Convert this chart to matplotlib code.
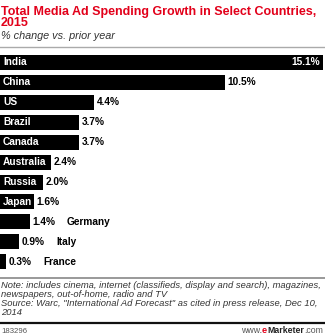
import matplotlib
matplotlib.use('Agg')
import matplotlib.pyplot as plt
from matplotlib.lines import Line2D

plt.rcParams['font.family'] = ['Liberation Sans', 'DejaVu Sans']

countries = ['India', 'China', 'US', 'Brazil', 'Canada', 'Australia', 'Russia',
             'Japan', 'Germany', 'Italy', 'France']
growth = [15.1, 10.5, 4.4, 3.7, 3.7, 2.4, 2.0, 1.6, 1.4, 0.9, 0.3]
# names that do not fit inside their bar go to the right of the value
outside = ['Germany', 'Italy', 'France']

W, H = 325, 335
fig = plt.figure(figsize=(W / 100, H / 100), dpi=100)

def fx(px):
    return px / W

def fy(py):
    return 1 - py / H

# bar area: centers from 62px to 262px, 20px apart
ax = fig.add_axes([fx(0), fy(272), fx(323), (272 - 52) / H])
ypos = list(range(len(countries)))
ax.barh(ypos, growth, height=0.75, color='black', left=0)
ax.set_xlim(0, max(growth))
ax.set_ylim(len(countries) - 0.5, -0.5)
ax.axis('off')

lab = dict(fontsize=7.3, fontweight='bold', va='center', textcoords='offset points')
for i, (c, v) in enumerate(zip(countries, growth)):
    txt = f'{v:.1f}%'
    if i == 0:
        ax.annotate(c, (0, i), xytext=(2.2, 0), color='white', ha='left', **lab)
        ax.annotate(txt, (v, i), xytext=(-2.2, 0), color='white', ha='right', **lab)
    elif c in outside:
        ax.annotate(txt, (v, i), xytext=(1.8, 0), color='black', ha='left', **lab)
        ax.annotate(c, (v, i), xytext=(26.5, 0), color='black', ha='left', **lab)
    else:
        ax.annotate(c, (0, i), xytext=(2.2, 0), color='white', ha='left', **lab)
        ax.annotate(txt, (v, i), xytext=(1.8, 0), color='black', ha='left', **lab)

red = '#e2001a'
fig.text(fx(1), fy(14.5), 'Total Media Ad Spending Growth in Select Countries,',
         color=red, fontsize=9.0, fontweight='bold', va='baseline', ha='left')
fig.text(fx(1), fy(26.5), '2015', color=red, fontsize=9.0, fontweight='bold',
         va='baseline', ha='left')
fig.text(fx(1), fy(39), '% change vs. prior year', color='#333333', fontsize=7.8,
         style='italic', va='baseline', ha='left')

fig.add_artist(Line2D([0, 1], [fy(46.5), fy(46.5)], color='#aaaaaa', lw=1.0))
fig.add_artist(Line2D([0, 1], [fy(278), fy(278)], color='#888888', lw=1.2))

notes = ['Note: includes cinema, internet (classifieds, display and search), magazines,',
         'newspapers, out-of-home, radio and TV',
         'Source: Warc, "International Ad Forecast" as cited in press release, Dec 10,',
         '2014']
for k, line in enumerate(notes):
    fig.text(fx(1), fy(288 + 9 * k), line, color='#333333', fontsize=6.75,
             style='italic', va='baseline', ha='left')

fig.add_artist(Line2D([0, 1], [fy(322.5), fy(322.5)], color='#111111', lw=1.6))
fig.text(fx(1), fy(333), '183296', color='#555555', fontsize=5.6, va='baseline', ha='left')

# www.eMarketer.com, right aligned
fs = 6.3
t3 = fig.text(fx(323), fy(333), '.com', color='#555555', fontsize=fs,
              va='baseline', ha='right')
fig.canvas.draw()
r = fig.canvas.get_renderer()
x_end = t3.get_window_extent(r).x0
t2 = fig.text(x_end / W, fy(333), 'Marketer', color='#222222', fontsize=fs,
              fontweight='bold', va='baseline', ha='right')
x_end = t2.get_window_extent(r).x0
t1 = fig.text(x_end / W, fy(333), 'e', color=red, fontsize=fs + 0.4,
              fontweight='bold', va='baseline', ha='right')
x_end = t1.get_window_extent(r).x0
fig.text(x_end / W, fy(333), 'www.', color='#555555', fontsize=fs,
         va='baseline', ha='right')

fig.savefig('out.png', dpi=100)
